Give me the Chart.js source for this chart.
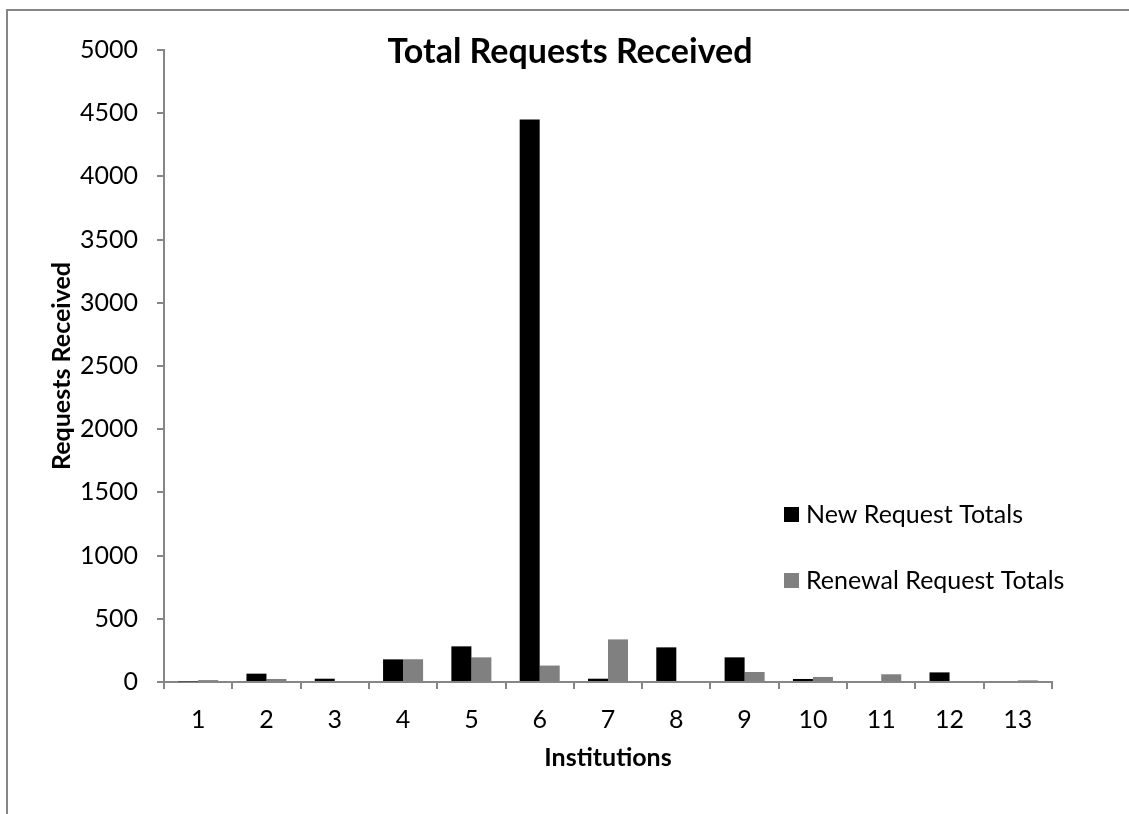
<!DOCTYPE html>
<html>
<head>
<meta charset="utf-8">
<script src="https://cdn.jsdelivr.net/npm/chart.js@4.4.0/dist/chart.umd.min.js"></script>
<style>
  html, body { margin: 0; padding: 0; background: #fff; }
  #wrap { position: relative; width: 1129px; height: 814px; }
</style>
</head>
<body>
<div id="wrap"><canvas id="requestsChart"></canvas></div>
<script>
'use strict';

// Chart data
const institutions = ['1', '2', '3', '4', '5', '6', '7', '8', '9', '10', '11', '12', '13'];
const newRequests = [5, 66, 26, 179, 282, 4450, 26, 274, 195, 24, 0, 76, 8];
const renewalRequests = [15, 24, 5, 180, 195, 130, 337, 0, 79, 40, 61, 0, 13];
const yTicks = [0, 500, 1000, 1500, 2000, 2500, 3000, 3500, 4000, 4500, 5000];

const FONT = 'Lato, "Open Sans", sans-serif';
const AXIS_GREY = '#868686';

// frame, title and legend drawn by hand
const decorations = {
  id: 'decorations',
  beforeDraw(chart) {
    const ctx = chart.ctx;
    ctx.save();
    ctx.strokeStyle = AXIS_GREY;
    ctx.lineWidth = 2;
    ctx.beginPath();
    ctx.moveTo(7, chart.height);
    ctx.lineTo(7, 10);
    ctx.lineTo(chart.width, 10);
    ctx.stroke();
    ctx.restore();
  },
  afterDraw(chart) {
    const ctx = chart.ctx;
    const area = chart.chartArea;
    ctx.save();
    ctx.fillStyle = '#000';
    ctx.font = 'bold 34px ' + FONT;
    ctx.textAlign = 'center';
    ctx.textBaseline = 'middle';
    ctx.fillText('Total Requests Received', 570, 52);

    ctx.font = '25px ' + FONT;
    ctx.textAlign = 'left';
    const x0 = area.right - 268;
    chart.data.datasets.forEach((ds, i) => {
      const y = area.bottom - 168 + i * 66;
      ctx.fillStyle = ds.backgroundColor;
      ctx.fillRect(x0, y - 7, 15, 15);
      ctx.fillStyle = '#000';
      ctx.fillText(ds.label, x0 + 22, y + 1);
    });
    ctx.restore();
  }
};

const requestsData = {
  labels: institutions,
  datasets: [
    {
      label: 'New Request Totals',
      backgroundColor: '#000000',
      data: newRequests,
    },
    {
      label: 'Renewal Request Totals',
      backgroundColor: '#808080',
      data: renewalRequests,
    },
  ],
};

const requestsConfig = {
  type: 'bar',
  data: requestsData,
  options: {
    responsive: true,
    maintainAspectRatio: false,
    animation: false,
    categoryPercentage: 0.586,
    barPercentage: 1,
    layout: { padding: { left: 47, top: 50, right: 77, bottom: 41 } },
    plugins: {
      legend: { display: false },
      title: { display: false },
      tooltip: { enabled: false },
    },
    scales: {
      x: {
        grid: {
          offset: true,
          drawOnChartArea: false,
          tickLength: 7,
          color: AXIS_GREY,
          lineWidth: 2,
        },
        border: { color: AXIS_GREY, width: 2 },
        ticks: { color: '#000', padding: 16, font: { family: FONT, size: 25 } },
        title: {
          display: true,
          text: 'Institutions',
          color: '#000',
          padding: 0,
          font: { family: FONT, size: 25, weight: 'bold' },
        },
        afterFit(scale) { scale.height = 91; },
      },
      y: {
        min: 0,
        max: 5000,
        grid: {
          drawOnChartArea: false,
          tickLength: 7,
          color: AXIS_GREY,
          lineWidth: 2,
        },
        border: { color: AXIS_GREY, width: 2 },
        ticks: {
          color: '#000',
          padding: 19,
          font: { family: FONT, size: 25 },
          callback: (v) => String(v),
        },
        afterBuildTicks(scale) { scale.ticks = yTicks.map(v => ({ value: v })); },
        title: {
          display: true,
          text: 'Requests Received',
          color: '#000',
          padding: 0,
          font: { family: FONT, size: 25, weight: 'bold' },
        },
        afterFit(scale) { scale.width = 117; },
      },
    },
  },
  plugins: [decorations],
};

const requestsChart = new Chart(
  document.getElementById('requestsChart'),
  requestsConfig
);
</script>
</body>
</html>
